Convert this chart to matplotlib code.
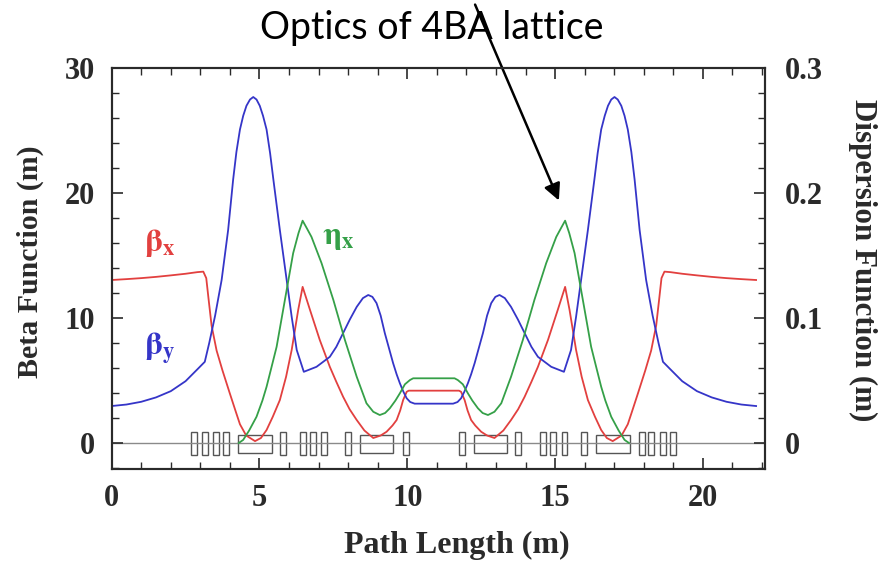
import matplotlib
matplotlib.use('Agg')
import matplotlib.pyplot as plt
from matplotlib.patches import Rectangle
from matplotlib.ticker import MultipleLocator

plt.rcParams['font.family'] = ['Liberation Serif', 'DejaVu Serif']
plt.rcParams['font.weight'] = 'bold'
plt.rcParams['mathtext.fontset'] = 'stix'

# beta_x (m) vs path length (m)
s_bx = [0.0, 0.5, 1.0, 1.5, 2.0, 2.5, 2.9, 3.1, 3.2, 3.27, 3.38, 3.55, 3.75, 4.0, 4.2,
        4.34, 4.55, 4.85, 5.05, 5.24, 5.45, 5.69, 5.9, 6.09, 6.31, 6.46, 6.71, 7.04, 7.38,
        7.6, 7.83, 8.05, 8.29, 8.55, 8.85, 9.1, 9.3, 9.5, 9.64, 9.76, 9.86, 9.98, 10.05,
        11.75, 11.82, 11.94, 12.04, 12.16, 12.3, 12.5, 12.7, 12.95, 13.25, 13.51, 13.75,
        13.97, 14.2, 14.42, 14.76, 15.09, 15.34, 15.49, 15.71, 15.9, 16.11, 16.35, 16.56,
        16.75, 16.95, 17.25, 17.46, 17.6, 17.8, 18.05, 18.25, 18.42, 18.53, 18.6, 18.7,
        18.9, 19.3, 19.8, 20.3, 20.8, 21.3, 21.8]
beta_x = [13.05, 13.12, 13.2, 13.3, 13.42, 13.55, 13.68, 13.72, 13.2, 11.7, 9.4, 7.4, 5.8,
          3.95, 2.5, 1.5, 0.6, 0.15, 0.4, 1.04, 2.1, 3.44, 5.3, 7.45, 10.65, 12.5, 10.65,
          8.25, 6.1, 4.9, 3.7, 2.7, 1.84, 1.0, 0.4, 0.6, 0.9, 1.4, 1.84, 2.6, 3.44, 4.1, 4.19,
          4.19, 4.1, 3.44, 2.6, 1.84, 1.4, 0.9, 0.6, 0.4, 1.0, 1.84, 2.7, 3.7, 4.9, 6.1,
          8.25, 10.65, 12.5, 10.65, 7.45, 5.3, 3.44, 2.1, 1.04, 0.4, 0.15, 0.6, 1.5, 2.5,
          3.95, 5.8, 7.4, 9.4, 11.7, 13.2, 13.72, 13.68, 13.55, 13.42, 13.3, 13.2, 13.12, 13.05]

# beta_y (m)
s_by = [0.0, 0.5, 1.0, 1.5, 2.0, 2.5, 2.9, 3.15, 3.3, 3.5, 3.72, 3.94, 4.11, 4.22, 4.34,
        4.45, 4.56, 4.68, 4.79, 4.9, 5.01, 5.12, 5.24, 5.36, 5.47, 5.69, 5.92, 6.09, 6.26,
        6.5, 6.93, 7.38, 7.6, 7.83, 8.06, 8.29, 8.5, 8.68, 8.82, 8.96, 9.1, 9.24, 9.38,
        9.52, 9.64, 9.75, 9.87, 9.98, 10.1, 10.25, 11.55, 11.7, 11.82, 11.93, 12.05, 12.16,
        12.28, 12.42, 12.56, 12.7, 12.84, 12.98, 13.12, 13.3, 13.51, 13.74, 13.97, 14.2,
        14.42, 14.87, 15.3, 15.54, 15.71, 15.88, 16.11, 16.33, 16.44, 16.56, 16.68, 16.79,
        16.9, 17.01, 17.12, 17.24, 17.35, 17.46, 17.58, 17.69, 17.86, 18.08, 18.3, 18.5,
        18.65, 18.9, 19.3, 19.8, 20.3, 20.8, 21.3, 21.8]
beta_y = [2.96, 3.08, 3.3, 3.65, 4.15, 4.95, 5.9, 6.5, 8.0, 10.2, 13.05, 17.05, 21.1, 23.3,
          25.1, 26.2, 27.0, 27.5, 27.7, 27.5, 27.0, 26.2, 25.1, 23.2, 21.1, 17.05, 13.05,
          10.1, 7.45, 5.7, 6.1, 6.9, 7.7, 8.8, 9.9, 10.9, 11.6, 11.85, 11.7, 11.2, 10.2, 8.8,
          7.6, 6.4, 5.5, 4.78, 4.1, 3.58, 3.28, 3.15, 3.15, 3.28, 3.58, 4.1, 4.78, 5.5, 6.4,
          7.6, 8.8, 10.2, 11.2, 11.7, 11.85, 11.6, 10.9, 9.9, 8.8, 7.7, 6.9, 6.1, 5.7, 7.45,
          10.1, 13.05, 17.05, 21.1, 23.2, 25.1, 26.2, 27.0, 27.5, 27.7, 27.5, 27.0, 26.2,
          25.1, 23.3, 21.1, 17.05, 13.05, 10.2, 8.0, 6.5, 5.9, 4.95, 4.15, 3.65, 3.3, 3.08,
          2.96]

# dispersion eta_x (m)
s_eta = [4.3, 4.45, 4.65, 4.9, 5.1, 5.24, 5.4, 5.58, 5.86, 6.14, 6.32, 6.46, 6.6, 6.76,
         7.1, 7.5, 7.89, 8.29, 8.62, 8.85, 9.07, 9.25, 9.41, 9.6, 9.75, 9.92, 10.09, 10.2,
         11.6, 11.71, 11.88, 12.05, 12.2, 12.39, 12.55, 12.73, 12.95, 13.18, 13.51, 13.91,
         14.3, 14.7, 15.04, 15.2, 15.34, 15.48, 15.66, 15.94, 16.22, 16.4, 16.56, 16.7,
         16.9, 17.15, 17.35, 17.5]
eta_x = [0.0, 0.0025, 0.01, 0.021, 0.034, 0.045, 0.06, 0.077, 0.1145, 0.152, 0.168, 0.178,
         0.172, 0.165, 0.144, 0.1145, 0.0825, 0.053, 0.0318, 0.025, 0.0224, 0.024, 0.0278,
         0.034, 0.0398, 0.047, 0.0504, 0.0518, 0.0518, 0.0504, 0.047, 0.0398, 0.034, 0.0278,
         0.024, 0.0224, 0.025, 0.0318, 0.053, 0.0825, 0.1145, 0.144, 0.165, 0.172, 0.178,
         0.168, 0.152, 0.1145, 0.077, 0.06, 0.045, 0.034, 0.021, 0.01, 0.0025, 0.0]

# magnet layout: centres (m)
quad_centres = [2.80, 3.15, 3.54, 3.86, 5.80, 6.46, 6.81, 7.17, 7.98, 9.96,
                11.84, 13.75, 14.60, 14.94, 15.32, 15.98, 17.94, 18.25, 18.65, 19.00]
dipole_centres = [4.85, 8.96, 12.82, 16.96]
quad_len = 0.2
dipole_len = 1.13

x_ticks = [0, 5, 10, 15, 20]
beta_ticks = [0, 10, 20, 30]
disp_ticks = [0, 0.1, 0.2, 0.3]
disp_tick_labels = ['0', '0.1', '0.2', '0.3']

red = '#e2403f'
blue = '#3535c8'
green = '#35a048'
dark = '#2a2a2a'

fig = plt.figure(figsize=(8.82, 5.63), dpi=100)
ax = fig.add_axes([0.1266, 0.167, 0.7407, 0.7117])
ax2 = ax.twinx()

for c in quad_centres:
    ax.add_patch(Rectangle((c - quad_len / 2, -1.0), quad_len, 1.9, fill=False,
                           ec='#555555', lw=1.0, zorder=1))
for c in dipole_centres:
    ax.add_patch(Rectangle((c - dipole_len / 2, -0.8), dipole_len, 1.45, fill=False,
                           ec='#555555', lw=1.0, zorder=1))
ax.axhline(0, color='#8a8a8a', lw=1.0, zorder=1.5)

ax.plot(s_bx, beta_x, color=red, lw=1.3, zorder=2)
ax.plot(s_by, beta_y, color=blue, lw=1.3, zorder=2)
ax2.plot(s_eta, eta_x, color=green, lw=1.3, zorder=2)

ax.set_xlim(0, 22.1)
ax.set_ylim(-2.08, 30)
ax2.set_ylim(-0.0208, 0.30)

ax.set_xticks(x_ticks)
ax.set_yticks(beta_ticks)
ax2.set_yticks(disp_ticks)
ax2.set_yticklabels(disp_tick_labels)
ax.xaxis.set_minor_locator(MultipleLocator(1))
ax.yaxis.set_minor_locator(MultipleLocator(2))
ax2.yaxis.set_minor_locator(MultipleLocator(0.02))

ax.tick_params(axis='x', which='both', direction='in', top=True, colors=dark,
               labelsize=22, pad=11)
ax.tick_params(axis='y', which='both', direction='in', right=False, colors=dark,
               labelsize=22, pad=12)
ax2.tick_params(axis='y', which='both', direction='in', colors=dark, labelsize=22, pad=14)
for a in (ax, ax2):
    a.tick_params(which='major', length=8, width=1.2)
    a.tick_params(which='minor', length=5, width=1.0)
    for sp in a.spines.values():
        sp.set_color(dark)
        sp.set_linewidth(1.5)

ax.set_xlabel('Path Length (m)', fontsize=23, fontweight='bold', color=dark, va='center')
ax.xaxis.set_label_coords(0.529, -0.19)
ax.set_ylabel('Beta Function (m)', fontsize=21.5, fontweight='bold', color=dark, va='center')
ax.yaxis.set_label_coords(-0.125, 0.517)
ax2.set_ylabel('Dispersion Function (m)', fontsize=22.3, fontweight='bold', color=dark,
               rotation=270, va='center')
ax2.yaxis.set_label_coords(1.15, 0.52)

ax.text(1.1, 15.4, r'$\mathrm{\beta_x}$', color=red, fontsize=23)
ax.text(1.1, 7.0, r'$\mathrm{\beta_y}$', color=blue, fontsize=23)
ax.text(7.1, 15.9, r'$\mathrm{\eta_x}$', color=green, fontsize=23)

fig.text(0.49, 0.95, 'Optics of 4BA lattice', fontsize=27, family='Lato',
         fontweight='normal', ha='center', va='center', color='black')
ax.annotate('', xy=(0.6349, 0.6394), xycoords='figure fraction',
            xytext=(0.5374, 0.9964), textcoords='figure fraction',
            arrowprops=dict(arrowstyle='-|>', mutation_scale=25, lw=1.8, color='black'))

fig.savefig('out.png', dpi=100)
